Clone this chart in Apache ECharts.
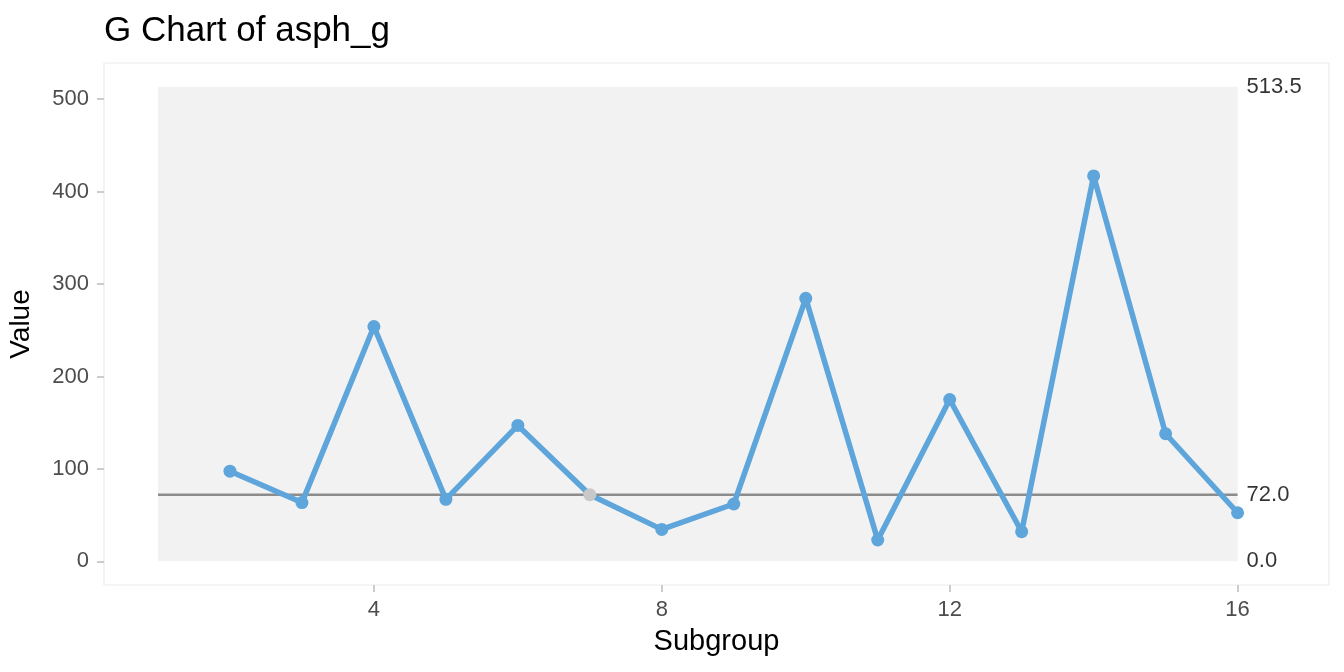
<!DOCTYPE html>
<html>
<head>
<meta charset="utf-8">
<script src="https://cdn.jsdelivr.net/npm/echarts@6/dist/echarts.min.js"></script>
<style>
html,body{margin:0;padding:0;background:#fff;}
#chart{width:1344px;height:672px;}
</style>
</head>
<body>
<div id="chart"></div>
<script>
const subgroups = [2, 3, 4, 5, 6, 7, 8, 9, 10, 11, 12, 13, 14, 15, 16];
const values = [97.5, 63.5, 254, 67, 147, 72, 34.5, 62, 284.5, 23, 175, 32, 417, 138, 52.5];
const greyPoints = [7];
const centerLine = 72.0;
const ucl = 513.5;
const lcl = 0.0;
const limitStart = 1;
const limitEnd = 16;
const xTicks = [4, 8, 12, 16];
const yTicks = [0, 100, 200, 300, 400, 500];

const FONT = "'Liberation Sans', Arial, sans-serif";
const chart = echarts.init(document.getElementById('chart'), null, {renderer: 'canvas'});

const pointData = subgroups.map((s, i) => ({
  value: [s, values[i]],
  itemStyle: { color: greyPoints.includes(s) ? '#c8c8c8' : '#5DA5DA' }
}));

chart.setOption({
  animation: false,
  backgroundColor: '#ffffff',
  textStyle: { fontFamily: FONT },
  title: {
    text: 'G Chart of asph_g',
    left: 99,
    top: 9,
    textStyle: { fontFamily: FONT, fontSize: 35, fontWeight: 'normal', color: '#000' }
  },
  grid: {
    left: 104, right: 15, top: 63, bottom: 87,
    containLabel: false,
    outerBoundsMode: 'none',
    show: true, borderColor: '#ebebeb', borderWidth: 1.2, backgroundColor: '#fff'
  },
  xAxis: {
    type: 'value',
    min: 0.25, max: 17.27,
    name: 'Subgroup',
    nameLocation: 'middle',
    nameGap: 42,
    nameTextStyle: { fontFamily: FONT, fontSize: 29, color: '#000' },
    axisLine: { show: false, onZero: false },
    axisTick: { show: true, customValues: xTicks, length: 7, lineStyle: { color: '#cccccc', width: 2 } },
    axisLabel: { customValues: xTicks, fontFamily: FONT, fontSize: 22, color: '#4d4d4d', margin: 14 },
    splitLine: { show: false }
  },
  yAxis: {
    type: 'value',
    min: -25.675, max: 539.175,
    name: 'Value',
    nameLocation: 'middle',
    nameGap: 69,
    nameTextStyle: { fontFamily: FONT, fontSize: 28, color: '#000' },
    axisLine: { show: false, onZero: false },
    axisTick: { show: true, customValues: yTicks, length: 7, lineStyle: { color: '#cccccc', width: 2 } },
    axisLabel: { customValues: yTicks, fontFamily: FONT, fontSize: 22, color: '#4d4d4d', margin: 15 },
    splitLine: { show: false }
  },
  series: [
    {
      type: 'line',
      z: 1,
      data: [[limitStart, centerLine], [limitEnd, centerLine]],
      symbol: 'none',
      lineStyle: { color: '#8c8c8c', width: 2.5 },
      silent: true,
      markArea: {
        silent: true,
        itemStyle: { color: '#f2f2f2' },
        data: [[{ coord: [limitStart, lcl] }, { coord: [limitEnd, ucl] }]]
      }
    },
    {
      type: 'line',
      z: 3,
      data: pointData,
      symbol: 'circle',
      symbolSize: 13,
      lineStyle: { color: '#5DA5DA', width: 5.5 },
      itemStyle: { color: '#5DA5DA' }
    },
    {
      type: 'scatter',
      z: 4,
      symbolSize: 0,
      data: [[limitEnd, ucl], [limitEnd, centerLine], [limitEnd, lcl]],
      label: {
        show: true,
        position: 'right',
        distance: 9,
        fontFamily: FONT,
        fontSize: 22,
        color: '#000',
        formatter: p => p.value[1].toFixed(1)
      }
    }
  ]
});
</script>
</body>
</html>
